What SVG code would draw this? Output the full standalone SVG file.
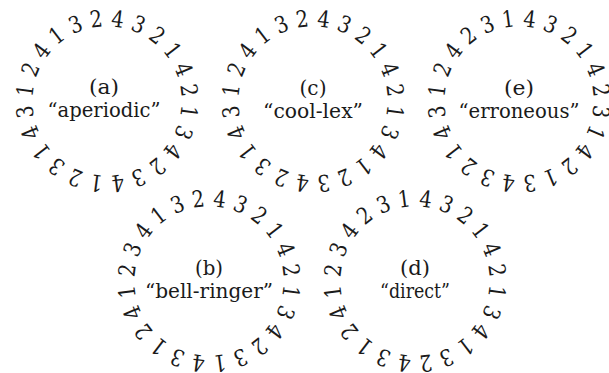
<svg xmlns="http://www.w3.org/2000/svg" width="609" height="373" viewBox="0 0 609 373" font-family="DejaVu Serif, serif">
<style>
.d{font-size:23px;text-anchor:middle;fill:#1a1a1a}
.l{font-size:20px;text-anchor:middle;fill:#1a1a1a}
</style>
<rect width="609" height="373" fill="#fff"/>
<g id="cycle-a" transform="translate(107,101)">
<text class="d" y="8.3" transform="rotate(7.5) translate(0,-83) scale(0.85,1)">4</text>
<text class="d" y="8.3" transform="rotate(22.5) translate(0,-83) scale(0.85,1)">3</text>
<text class="d" y="8.3" transform="rotate(37.5) translate(0,-83) scale(0.85,1)">2</text>
<text class="d" y="8.3" transform="rotate(52.5) translate(0,-83) scale(0.85,1)">1</text>
<text class="d" y="8.3" transform="rotate(67.5) translate(0,-83) scale(0.85,1)">4</text>
<text class="d" y="8.3" transform="rotate(82.5) translate(0,-83) scale(0.85,1)">2</text>
<text class="d" y="8.3" transform="rotate(97.5) translate(0,-83) scale(0.85,1)">1</text>
<text class="d" y="8.3" transform="rotate(112.5) translate(0,-83) scale(0.85,1)">3</text>
<text class="d" y="8.3" transform="rotate(127.5) translate(0,-83) scale(0.85,1)">4</text>
<text class="d" y="8.3" transform="rotate(142.5) translate(0,-83) scale(0.85,1)">2</text>
<text class="d" y="8.3" transform="rotate(157.5) translate(0,-83) scale(0.85,1)">3</text>
<text class="d" y="8.3" transform="rotate(172.5) translate(0,-83) scale(0.85,1)">4</text>
<text class="d" y="8.3" transform="rotate(187.5) translate(0,-83) scale(0.85,1)">1</text>
<text class="d" y="8.3" transform="rotate(202.5) translate(0,-83) scale(0.85,1)">2</text>
<text class="d" y="8.3" transform="rotate(217.5) translate(0,-83) scale(0.85,1)">3</text>
<text class="d" y="8.3" transform="rotate(232.5) translate(0,-83) scale(0.85,1)">1</text>
<text class="d" y="8.3" transform="rotate(247.5) translate(0,-83) scale(0.85,1)">4</text>
<text class="d" y="8.3" transform="rotate(262.5) translate(0,-83) scale(0.85,1)">3</text>
<text class="d" y="8.3" transform="rotate(277.5) translate(0,-83) scale(0.85,1)">1</text>
<text class="d" y="8.3" transform="rotate(292.5) translate(0,-83) scale(0.85,1)">2</text>
<text class="d" y="8.3" transform="rotate(307.5) translate(0,-83) scale(0.85,1)">4</text>
<text class="d" y="8.3" transform="rotate(322.5) translate(0,-83) scale(0.85,1)">1</text>
<text class="d" y="8.3" transform="rotate(337.5) translate(0,-83) scale(0.85,1)">3</text>
<text class="d" y="8.3" transform="rotate(352.5) translate(0,-83) scale(0.85,1)">2</text>
<text class="l" x="-3" y="-7" textLength="30" lengthAdjust="spacingAndGlyphs">(a)</text>
<text class="l" x="-3" y="16" textLength="113" lengthAdjust="spacingAndGlyphs">“aperiodic”</text>
</g>
<g id="cycle-c" transform="translate(313,101)">
<text class="d" y="8.3" transform="rotate(7.5) translate(0,-83) scale(0.85,1)">4</text>
<text class="d" y="8.3" transform="rotate(22.5) translate(0,-83) scale(0.85,1)">3</text>
<text class="d" y="8.3" transform="rotate(37.5) translate(0,-83) scale(0.85,1)">2</text>
<text class="d" y="8.3" transform="rotate(52.5) translate(0,-83) scale(0.85,1)">1</text>
<text class="d" y="8.3" transform="rotate(67.5) translate(0,-83) scale(0.85,1)">4</text>
<text class="d" y="8.3" transform="rotate(82.5) translate(0,-83) scale(0.85,1)">2</text>
<text class="d" y="8.3" transform="rotate(97.5) translate(0,-83) scale(0.85,1)">1</text>
<text class="d" y="8.3" transform="rotate(112.5) translate(0,-83) scale(0.85,1)">3</text>
<text class="d" y="8.3" transform="rotate(127.5) translate(0,-83) scale(0.85,1)">4</text>
<text class="d" y="8.3" transform="rotate(142.5) translate(0,-83) scale(0.85,1)">1</text>
<text class="d" y="8.3" transform="rotate(157.5) translate(0,-83) scale(0.85,1)">2</text>
<text class="d" y="8.3" transform="rotate(172.5) translate(0,-83) scale(0.85,1)">3</text>
<text class="d" y="8.3" transform="rotate(187.5) translate(0,-83) scale(0.85,1)">4</text>
<text class="d" y="8.3" transform="rotate(202.5) translate(0,-83) scale(0.85,1)">2</text>
<text class="d" y="8.3" transform="rotate(217.5) translate(0,-83) scale(0.85,1)">3</text>
<text class="d" y="8.3" transform="rotate(232.5) translate(0,-83) scale(0.85,1)">1</text>
<text class="d" y="8.3" transform="rotate(247.5) translate(0,-83) scale(0.85,1)">4</text>
<text class="d" y="8.3" transform="rotate(262.5) translate(0,-83) scale(0.85,1)">3</text>
<text class="d" y="8.3" transform="rotate(277.5) translate(0,-83) scale(0.85,1)">1</text>
<text class="d" y="8.3" transform="rotate(292.5) translate(0,-83) scale(0.85,1)">2</text>
<text class="d" y="8.3" transform="rotate(307.5) translate(0,-83) scale(0.85,1)">4</text>
<text class="d" y="8.3" transform="rotate(322.5) translate(0,-83) scale(0.85,1)">1</text>
<text class="d" y="8.3" transform="rotate(337.5) translate(0,-83) scale(0.85,1)">3</text>
<text class="d" y="8.3" transform="rotate(352.5) translate(0,-83) scale(0.85,1)">2</text>
<text class="l" x="0" y="-6" textLength="27" lengthAdjust="spacingAndGlyphs">(c)</text>
<text class="l" x="0" y="17" textLength="100" lengthAdjust="spacingAndGlyphs">“cool-lex”</text>
</g>
<g id="cycle-e" transform="translate(519,101)">
<text class="d" y="8.3" transform="rotate(7.5) translate(0,-83) scale(0.85,1)">4</text>
<text class="d" y="8.3" transform="rotate(22.5) translate(0,-83) scale(0.85,1)">3</text>
<text class="d" y="8.3" transform="rotate(37.5) translate(0,-83) scale(0.85,1)">2</text>
<text class="d" y="8.3" transform="rotate(52.5) translate(0,-83) scale(0.85,1)">1</text>
<text class="d" y="8.3" transform="rotate(67.5) translate(0,-83) scale(0.85,1)">4</text>
<text class="d" y="8.3" transform="rotate(82.5) translate(0,-83) scale(0.85,1)">2</text>
<text class="d" y="8.3" transform="rotate(97.5) translate(0,-83) scale(0.85,1)">3</text>
<text class="d" y="8.3" transform="rotate(112.5) translate(0,-83) scale(0.85,1)">1</text>
<text class="d" y="8.3" transform="rotate(127.5) translate(0,-83) scale(0.85,1)">4</text>
<text class="d" y="8.3" transform="rotate(142.5) translate(0,-83) scale(0.85,1)">2</text>
<text class="d" y="8.3" transform="rotate(157.5) translate(0,-83) scale(0.85,1)">1</text>
<text class="d" y="8.3" transform="rotate(172.5) translate(0,-83) scale(0.85,1)">3</text>
<text class="d" y="8.3" transform="rotate(187.5) translate(0,-83) scale(0.85,1)">4</text>
<text class="d" y="8.3" transform="rotate(202.5) translate(0,-83) scale(0.85,1)">3</text>
<text class="d" y="8.3" transform="rotate(217.5) translate(0,-83) scale(0.85,1)">2</text>
<text class="d" y="8.3" transform="rotate(232.5) translate(0,-83) scale(0.85,1)">1</text>
<text class="d" y="8.3" transform="rotate(247.5) translate(0,-83) scale(0.85,1)">4</text>
<text class="d" y="8.3" transform="rotate(262.5) translate(0,-83) scale(0.85,1)">3</text>
<text class="d" y="8.3" transform="rotate(277.5) translate(0,-83) scale(0.85,1)">1</text>
<text class="d" y="8.3" transform="rotate(292.5) translate(0,-83) scale(0.85,1)">2</text>
<text class="d" y="8.3" transform="rotate(307.5) translate(0,-83) scale(0.85,1)">4</text>
<text class="d" y="8.3" transform="rotate(322.5) translate(0,-83) scale(0.85,1)">2</text>
<text class="d" y="8.3" transform="rotate(337.5) translate(0,-83) scale(0.85,1)">3</text>
<text class="d" y="8.3" transform="rotate(352.5) translate(0,-83) scale(0.85,1)">1</text>
<text class="l" x="0" y="-6" textLength="30" lengthAdjust="spacingAndGlyphs">(e)</text>
<text class="l" x="0" y="17" textLength="121" lengthAdjust="spacingAndGlyphs">“erroneous”</text>
</g>
<g id="cycle-b" transform="translate(209,281)">
<text class="d" y="8.3" transform="rotate(7.5) translate(0,-83) scale(0.85,1)">4</text>
<text class="d" y="8.3" transform="rotate(22.5) translate(0,-83) scale(0.85,1)">3</text>
<text class="d" y="8.3" transform="rotate(37.5) translate(0,-83) scale(0.85,1)">2</text>
<text class="d" y="8.3" transform="rotate(52.5) translate(0,-83) scale(0.85,1)">1</text>
<text class="d" y="8.3" transform="rotate(67.5) translate(0,-83) scale(0.85,1)">4</text>
<text class="d" y="8.3" transform="rotate(82.5) translate(0,-83) scale(0.85,1)">2</text>
<text class="d" y="8.3" transform="rotate(97.5) translate(0,-83) scale(0.85,1)">1</text>
<text class="d" y="8.3" transform="rotate(112.5) translate(0,-83) scale(0.85,1)">3</text>
<text class="d" y="8.3" transform="rotate(127.5) translate(0,-83) scale(0.85,1)">4</text>
<text class="d" y="8.3" transform="rotate(142.5) translate(0,-83) scale(0.85,1)">2</text>
<text class="d" y="8.3" transform="rotate(157.5) translate(0,-83) scale(0.85,1)">3</text>
<text class="d" y="8.3" transform="rotate(172.5) translate(0,-83) scale(0.85,1)">1</text>
<text class="d" y="8.3" transform="rotate(187.5) translate(0,-83) scale(0.85,1)">4</text>
<text class="d" y="8.3" transform="rotate(202.5) translate(0,-83) scale(0.85,1)">3</text>
<text class="d" y="8.3" transform="rotate(217.5) translate(0,-83) scale(0.85,1)">1</text>
<text class="d" y="8.3" transform="rotate(232.5) translate(0,-83) scale(0.85,1)">2</text>
<text class="d" y="8.3" transform="rotate(247.5) translate(0,-83) scale(0.85,1)">4</text>
<text class="d" y="8.3" transform="rotate(262.5) translate(0,-83) scale(0.85,1)">1</text>
<text class="d" y="8.3" transform="rotate(277.5) translate(0,-83) scale(0.85,1)">2</text>
<text class="d" y="8.3" transform="rotate(292.5) translate(0,-83) scale(0.85,1)">3</text>
<text class="d" y="8.3" transform="rotate(307.5) translate(0,-83) scale(0.85,1)">4</text>
<text class="d" y="8.3" transform="rotate(322.5) translate(0,-83) scale(0.85,1)">1</text>
<text class="d" y="8.3" transform="rotate(337.5) translate(0,-83) scale(0.85,1)">3</text>
<text class="d" y="8.3" transform="rotate(352.5) translate(0,-83) scale(0.85,1)">2</text>
<text class="l" x="0" y="-6" textLength="28" lengthAdjust="spacingAndGlyphs">(b)</text>
<text class="l" x="0" y="17" textLength="128" lengthAdjust="spacingAndGlyphs">“bell-ringer”</text>
</g>
<g id="cycle-d" transform="translate(415,281)">
<text class="d" y="8.3" transform="rotate(7.5) translate(0,-83) scale(0.85,1)">4</text>
<text class="d" y="8.3" transform="rotate(22.5) translate(0,-83) scale(0.85,1)">3</text>
<text class="d" y="8.3" transform="rotate(37.5) translate(0,-83) scale(0.85,1)">2</text>
<text class="d" y="8.3" transform="rotate(52.5) translate(0,-83) scale(0.85,1)">1</text>
<text class="d" y="8.3" transform="rotate(67.5) translate(0,-83) scale(0.85,1)">4</text>
<text class="d" y="8.3" transform="rotate(82.5) translate(0,-83) scale(0.85,1)">2</text>
<text class="d" y="8.3" transform="rotate(97.5) translate(0,-83) scale(0.85,1)">1</text>
<text class="d" y="8.3" transform="rotate(112.5) translate(0,-83) scale(0.85,1)">3</text>
<text class="d" y="8.3" transform="rotate(127.5) translate(0,-83) scale(0.85,1)">4</text>
<text class="d" y="8.3" transform="rotate(142.5) translate(0,-83) scale(0.85,1)">1</text>
<text class="d" y="8.3" transform="rotate(157.5) translate(0,-83) scale(0.85,1)">3</text>
<text class="d" y="8.3" transform="rotate(172.5) translate(0,-83) scale(0.85,1)">2</text>
<text class="d" y="8.3" transform="rotate(187.5) translate(0,-83) scale(0.85,1)">4</text>
<text class="d" y="8.3" transform="rotate(202.5) translate(0,-83) scale(0.85,1)">3</text>
<text class="d" y="8.3" transform="rotate(217.5) translate(0,-83) scale(0.85,1)">1</text>
<text class="d" y="8.3" transform="rotate(232.5) translate(0,-83) scale(0.85,1)">2</text>
<text class="d" y="8.3" transform="rotate(247.5) translate(0,-83) scale(0.85,1)">4</text>
<text class="d" y="8.3" transform="rotate(262.5) translate(0,-83) scale(0.85,1)">1</text>
<text class="d" y="8.3" transform="rotate(277.5) translate(0,-83) scale(0.85,1)">2</text>
<text class="d" y="8.3" transform="rotate(292.5) translate(0,-83) scale(0.85,1)">3</text>
<text class="d" y="8.3" transform="rotate(307.5) translate(0,-83) scale(0.85,1)">4</text>
<text class="d" y="8.3" transform="rotate(322.5) translate(0,-83) scale(0.85,1)">2</text>
<text class="d" y="8.3" transform="rotate(337.5) translate(0,-83) scale(0.85,1)">3</text>
<text class="d" y="8.3" transform="rotate(352.5) translate(0,-83) scale(0.85,1)">1</text>
<text class="l" x="0" y="-6" textLength="30" lengthAdjust="spacingAndGlyphs">(d)</text>
<text class="l" x="0" y="17" textLength="70" lengthAdjust="spacingAndGlyphs">“direct”</text>
</g>
</svg>
